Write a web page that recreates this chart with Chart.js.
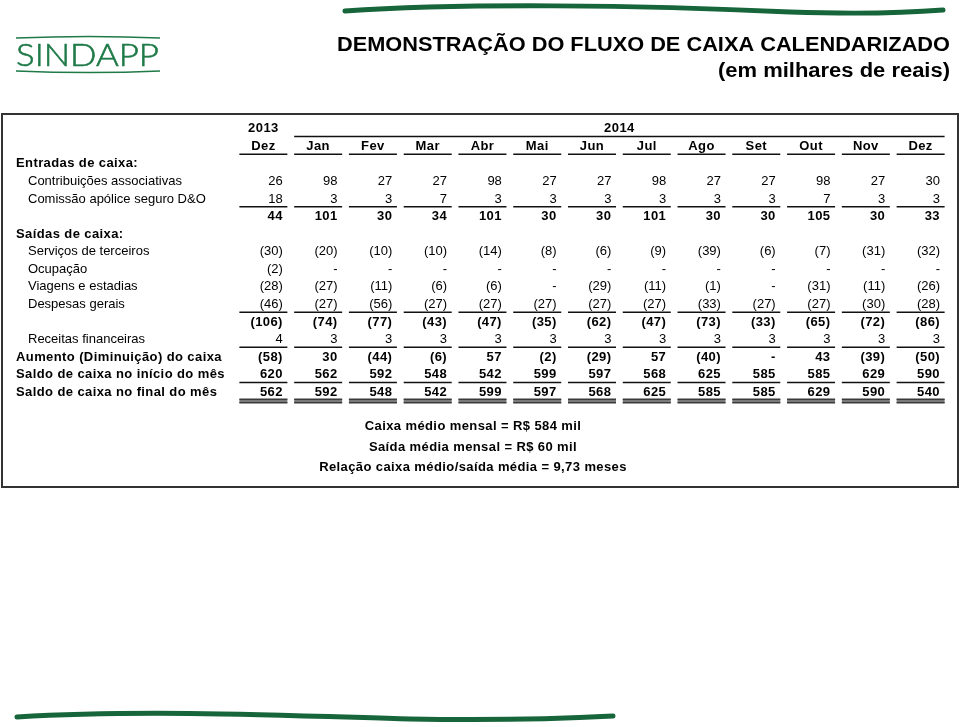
<!DOCTYPE html>
<html lang="pt-BR">
<head>
<meta charset="utf-8">
<title>Demonstração do fluxo de caixa calendarizado</title>
<script src="https://cdn.jsdelivr.net/npm/chart.js@4.4.1/dist/chart.umd.min.js"></script>
<style>
  html, body { margin: 0; padding: 0; background: #fff; }
  canvas { display: block; }
</style>
</head>
<body>
<canvas id="fluxo" width="960" height="727"></canvas>
<script>
const years = ['2013', '2014'];
const months = ['Dez', 'Jan', 'Fev', 'Mar', 'Abr', 'Mai', 'Jun', 'Jul', 'Ago', 'Set', 'Out', 'Nov', 'Dez'];

const contribuicoes = [26, 98, 27, 27, 98, 27, 27, 98, 27, 27, 98, 27, 30];
const comissaoDO = [18, 3, 3, 7, 3, 3, 3, 3, 3, 3, 7, 3, 3];
const totalEntradas = [44, 101, 30, 34, 101, 30, 30, 101, 30, 30, 105, 30, 33];
const servicosTerceiros = [-30, -20, -10, -10, -14, -8, -6, -9, -39, -6, -7, -31, -32];
const ocupacao = [-2, 0, 0, 0, 0, 0, 0, 0, 0, 0, 0, 0, 0];
const viagens = [-28, -27, -11, -6, -6, 0, -29, -11, -1, 0, -31, -11, -26];
const despesasGerais = [-46, -27, -56, -27, -27, -27, -27, -27, -33, -27, -27, -30, -28];
const totalSaidas = [-106, -74, -77, -43, -47, -35, -62, -47, -73, -33, -65, -72, -86];
const receitasFinanceiras = [4, 3, 3, 3, 3, 3, 3, 3, 3, 3, 3, 3, 3];
const aumentoCaixa = [-58, 30, -44, -6, 57, -2, -29, 57, -40, 0, 43, -39, -50];
const saldoInicio = [620, 562, 592, 548, 542, 599, 597, 568, 625, 585, 585, 629, 590];
const saldoFinal = [562, 592, 548, 542, 599, 597, 568, 625, 585, 585, 629, 590, 540];

const notes = [
  'Caixa médio mensal = R$ 584 mil',
  'Saída média mensal = R$ 60 mil',
  'Relação caixa médio/saída média = 9,73 meses'
];

// linhas da tabela de cima para baixo (0 = ano, 1 = mês)
const rows = [
  { label: '' },
  { label: '', rule: 'single' },
  { label: 'Entradas de caixa:', section: true },
  { label: 'Contribuições associativas', values: contribuicoes },
  { label: 'Comissão apólice seguro D&O', values: comissaoDO, rule: 'single' },
  { label: '', values: totalEntradas, bold: true },
  { label: 'Saídas de caixa:', section: true },
  { label: 'Serviços de terceiros', values: servicosTerceiros },
  { label: 'Ocupação', values: ocupacao },
  { label: 'Viagens e estadias', values: viagens },
  { label: 'Despesas gerais', values: despesasGerais, rule: 'single' },
  { label: '', values: totalSaidas, bold: true },
  { label: 'Receitas financeiras', values: receitasFinanceiras, rule: 'single' },
  { label: 'Aumento (Diminuição) do caixa', values: aumentoCaixa, bold: true, section: true },
  { label: 'Saldo de caixa no início do mês', values: saldoInicio, bold: true, section: true, rule: 'single' },
  { label: 'Saldo de caixa no final do mês', values: saldoFinal, bold: true, section: true, rule: 'double' }
];

const FONT = '"Liberation Sans", Arial, Helvetica, sans-serif';
const GREEN = '#1f7a48';

function fmt(v) {
  if (v === 0) return '-';
  return v < 0 ? '(' + Math.abs(v) + ')' : String(v);
}

function setFont(ctx, bold) {
  ctx.font = (bold ? 'bold ' : '') + '13px ' + FONT;
  ctx.letterSpacing = bold ? '0.4px' : '0px';
}

function fitText(ctx, text, x, y, width, font, align, outline) {
  ctx.font = font;
  ctx.letterSpacing = '0px';
  const w = ctx.measureText(text).width;
  ctx.save();
  ctx.translate(x, y);
  ctx.scale(width / w, 1);
  ctx.textAlign = align;
  ctx.fillText(text, 0, 0);
  if (outline) {
    ctx.lineWidth = outline;
    ctx.strokeText(text, 0, 0);
  }
  ctx.restore();
}

const datasets = [];
rows.forEach((row, ri) => {
  if (!row.values) return;
  datasets.push({
    label: row.label || 'total',
    rowIndex: ri,
    data: row.values.map((v, i) => ({ x: i, y: ri })),
    pointRadius: 0,
    showLine: false
  });
});

const tablePlugin = {
  id: 'tabela',
  afterDraw(chart) {
    const { ctx, scales: { x, y } } = chart;
    const colW = x.getPixelForValue(1) - x.getPixelForValue(0);
    const rowH = y.getPixelForValue(1) - y.getPixelForValue(0);
    const half = 24;

    ctx.save();
    ctx.textBaseline = 'middle';
    ctx.fillStyle = '#000';

    // caixa
    ctx.strokeStyle = '#333';
    ctx.lineWidth = 2;
    ctx.strokeRect(2, 114, 956, 373);

    // cabeçalho: anos
    setFont(ctx, true);
    ctx.textAlign = 'center';
    const y0 = y.getPixelForValue(0) + 1;
    ctx.fillText(years[0], x.getPixelForValue(0), y0);
    const left2014 = x.getPixelForValue(1) - half;
    const right2014 = x.getPixelForValue(12) + half;
    ctx.fillText(years[1], (left2014 + right2014) / 2, y0);
    ctx.strokeStyle = '#111';
    ctx.lineWidth = 1.5;
    const yb0 = y.getPixelForValue(0) + rowH / 2;
    ctx.beginPath();
    ctx.moveTo(left2014, yb0);
    ctx.lineTo(right2014, yb0);
    ctx.stroke();

    // cabeçalho: meses
    months.forEach((m, i) => {
      ctx.fillText(m, x.getPixelForValue(i), y.getPixelForValue(1) + 1);
    });

    // rótulos e filetes
    rows.forEach((row, ri) => {
      const py = y.getPixelForValue(ri) + 1;
      if (row.label) {
        ctx.textAlign = 'left';
        setFont(ctx, row.section);
        ctx.fillText(row.label, row.section ? 16 : 28, py);
      }
      if (row.rule) {
        const yb = y.getPixelForValue(ri) + rowH / 2;
        months.forEach((m, i) => {
          const cx = x.getPixelForValue(i);
          if (row.rule === 'single') {
            ctx.strokeStyle = '#111';
            ctx.lineWidth = 1.5;
            ctx.beginPath();
            ctx.moveTo(cx - half, yb);
            ctx.lineTo(cx + half, yb);
            ctx.stroke();
          } else {
            ctx.fillStyle = '#7a7a7a';
            ctx.fillRect(cx - half, yb - 1, half * 2, 4);
            ctx.fillStyle = '#3a3a3a';
            ctx.fillRect(cx - half, yb - 1.5, half * 2, 1.5);
            ctx.fillRect(cx - half, yb + 2, half * 2, 1.5);
            ctx.fillStyle = '#000';
          }
        });
      }
    });

    // valores
    ctx.textAlign = 'right';
    chart.data.datasets.forEach((ds, di) => {
      const row = rows[ds.rowIndex];
      setFont(ctx, row.bold);
      chart.getDatasetMeta(di).data.forEach((pt, i) => {
        ctx.fillText(fmt(row.values[i]), pt.x + colW / 2 - 8, pt.y + 1);
      });
    });

    // notas
    ctx.textAlign = 'center';
    setFont(ctx, true);
    [426, 447, 467].forEach((ny, k) => ctx.fillText(notes[k], 473, ny));

    // título
    fitText(ctx, 'DEMONSTRAÇÃO DO FLUXO DE CAIXA CALENDARIZADO', 950, 45, 613, 'bold 20px ' + FONT, 'right');
    fitText(ctx, '(em milhares de reais)', 950, 71, 232, 'bold 20px ' + FONT, 'right');

    // logotipo
    ctx.fillStyle = GREEN;
    ctx.strokeStyle = GREEN;
    ctx.textBaseline = 'alphabetic';
    fitText(ctx, 'SINDAPP', 16, 66, 143, '300 32px Lato, ' + FONT, 'left', 0.6);
    ctx.lineWidth = 1.3;
    ctx.beginPath();
    ctx.moveTo(16, 38);
    ctx.quadraticCurveTo(90, 35, 160, 38);
    ctx.moveTo(16, 71);
    ctx.quadraticCurveTo(90, 74, 160, 71);
    ctx.stroke();

    // faixas verdes
    ctx.strokeStyle = '#17653a';
    ctx.lineCap = 'round';
    ctx.lineWidth = 5;
    ctx.beginPath();
    ctx.moveTo(345, 11);
    ctx.bezierCurveTo(460, 3, 640, 5, 790, 12);
    ctx.quadraticCurveTo(880, 15, 943, 10);
    ctx.stroke();
    ctx.beginPath();
    ctx.moveTo(17, 717);
    ctx.bezierCurveTo(150, 709, 300, 716, 410, 719);
    ctx.quadraticCurveTo(520, 721, 613, 716);
    ctx.stroke();

    ctx.restore();
  }
};

new Chart(document.getElementById('fluxo'), {
  type: 'scatter',
  data: { datasets },
  options: {
    responsive: false,
    animation: false,
    events: [],
    layout: { padding: { left: 236, right: 12, top: 119, bottom: 327 } },
    plugins: { legend: { display: false }, tooltip: { enabled: false } },
    scales: {
      x: { type: 'linear', min: -0.5, max: 12.5, display: false },
      y: { type: 'linear', min: -0.5, max: 15.5, reverse: true, display: false }
    }
  },
  plugins: [tablePlugin]
});
</script>
</body>
</html>
